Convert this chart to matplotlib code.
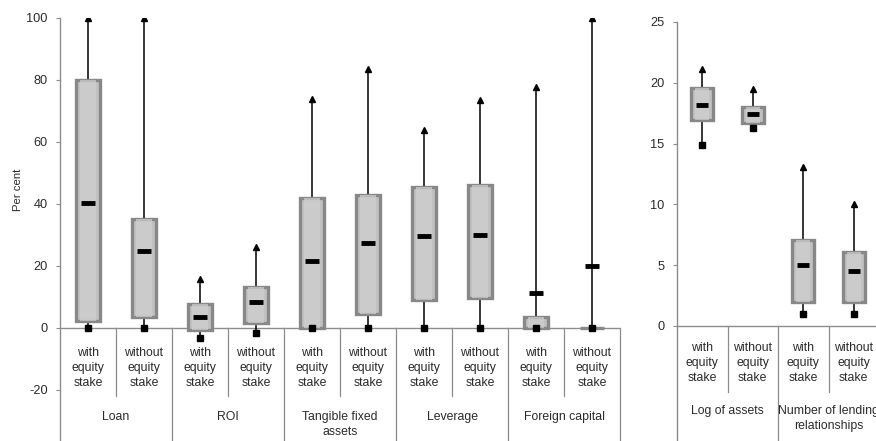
import matplotlib
matplotlib.use("Agg")
import matplotlib.pyplot as plt

plt.rcParams['font.family'] = ['Liberation Sans', 'DejaVu Sans']
plt.rcParams['axes.unicode_minus'] = False

# ---- data (left panel, per cent) ----
groups_left = ["Loan", "ROI", "Tangible fixed\nassets", "Leverage", "Foreign capital"]
sub_labels = ["with\nequity\nstake", "without\nequity\nstake"]
left_max = [100, 100, 15.8, 26, 74, 83.6, 64, 73.6, 77.8, 100]
left_q3 = [80, 35, 7.7, 13.2, 41.8, 43, 45.6, 46, 3.6, 0]
left_med = [40.3, 25, 3.7, 8.3, 21.5, 27.3, 29.8, 30, 11.2, 20]
left_q1 = [2.3, 3.5, -0.6, 1.7, 0, 4.4, 9, 9.7, 0, 0]
left_min = [0, 0, -3.2, -1.7, 0, 0, 0, 0, 0, 0]
left_ticks = [-20, 0, 20, 40, 60, 80, 100]

# ---- data (right panel) ----
groups_right = ["Log of assets", "Number of lending\nrelationships"]
right_max = [21.1, 19.5, 13.1, 10]
right_q3 = [19.6, 18.0, 7.1, 6.1]
right_med = [18.2, 17.4, 5.0, 4.5]
right_q1 = [16.9, 16.7, 2.0, 2.0]
right_min = [14.9, 16.3, 1.0, 1.0]
right_ticks = [0, 5, 10, 15, 20, 25]

W, H = 876, 441
fig = plt.figure(figsize=(W / 100, H / 100), dpi=100)

GRAY = '#8c8c8c'
TXT = '#2a2a2a'
FS = 8.8


def draw_panel(ax, mx, q3, med, q1, mn, groups, ylim, ticks, sub_y, sub_line_bottom, grp_y):
    n = len(mx)
    xs = [i + 0.5 for i in range(n)]
    ax.set_xlim(0, n)
    ax.set_ylim(*ylim)
    # whiskers
    for x, a, b, c, d in zip(xs, mx, q3, q1, mn):
        ax.plot([x, x], [b, a], color='black', lw=1.1, zorder=2)
        ax.plot([x, x], [d, c], color='black', lw=1.1, zorder=2)
    ax.plot(xs, mx, linestyle='none', marker='^', ms=4, color='black', zorder=4)
    ax.plot(xs, mn, linestyle='none', marker='s', ms=4, color='black', zorder=4)
    # boxes (bevelled look: dark rim, lighter face, light core)
    heights = [b - c for b, c in zip(q3, q1)]
    ax.bar(xs, heights, bottom=q1, width=0.44, facecolor='#c2c2c2',
           edgecolor='#888888', linewidth=2.4, zorder=3)
    ax.bar(xs, heights, bottom=q1, width=0.28, facecolor='#d0d0d0',
           edgecolor='none', linewidth=0, zorder=3, alpha=0.7)
    # medians
    ax.hlines(med, [x - 0.12 for x in xs], [x + 0.12 for x in xs],
              color='black', lw=3.5, zorder=5)
    # axes styling
    for s in ['top', 'right', 'bottom']:
        ax.spines[s].set_visible(False)
    ax.spines['left'].set_color(GRAY)
    ax.spines['left'].set_linewidth(1.0)
    ax.set_xticks([])
    ax.set_yticks(ticks)
    ax.tick_params(axis='y', direction='out', length=3, color=GRAY,
                   labelsize=9.2, labelcolor=TXT, pad=6)
    ax.axhline(0, color=GRAY, lw=1.0, zorder=1)
    # category table
    for i in range(1, n + 1):
        if i % 2 == 0:
            ax.plot([i, i], [0, ylim[0]], color=GRAY, lw=0.9, clip_on=False)
        else:
            ax.plot([i, i], [0, sub_line_bottom], color=GRAY, lw=0.9, clip_on=False)
    for i, x in enumerate(xs):
        ax.text(x, sub_y, sub_labels[i % 2], ha='center', va='center',
                fontsize=FS, color=TXT, linespacing=1.3)
    for g, name in enumerate(groups):
        ax.text(2 * g + 1, grp_y, name, ha='center', va='top',
                fontsize=FS, color=TXT, linespacing=1.3)


# left panel: 100 -> y=18px, 0 -> y=328px
lp = 3.1
ax1 = fig.add_axes([60 / W, 0, 560 / W, (H - 18) / H])
draw_panel(ax1, left_max, left_q3, left_med, left_q1, left_min, groups_left,
           (-(H - 328) / lp, 100), left_ticks,
           sub_y=(328 - 368) / lp, sub_line_bottom=(328 - 396) / lp,
           grp_y=(328 - 411) / lp)
ax1.set_ylabel("Per cent", fontsize=8.2, color=TXT)
ax1.yaxis.set_label_coords(-0.066, 0.595)

# right panel: 25 -> y=22px, 0 -> y=326px
rp = (326 - 22) / 25
ax2 = fig.add_axes([677 / W, 0, 202 / W, (H - 22) / H])
draw_panel(ax2, right_max, right_q3, right_med, right_q1, right_min, groups_right,
           (-(H - 326) / rp, 25), right_ticks,
           sub_y=(326 - 363) / rp, sub_line_bottom=(326 - 392) / rp,
           grp_y=(326 - 405) / rp)

fig.savefig("out.png", dpi=100)
